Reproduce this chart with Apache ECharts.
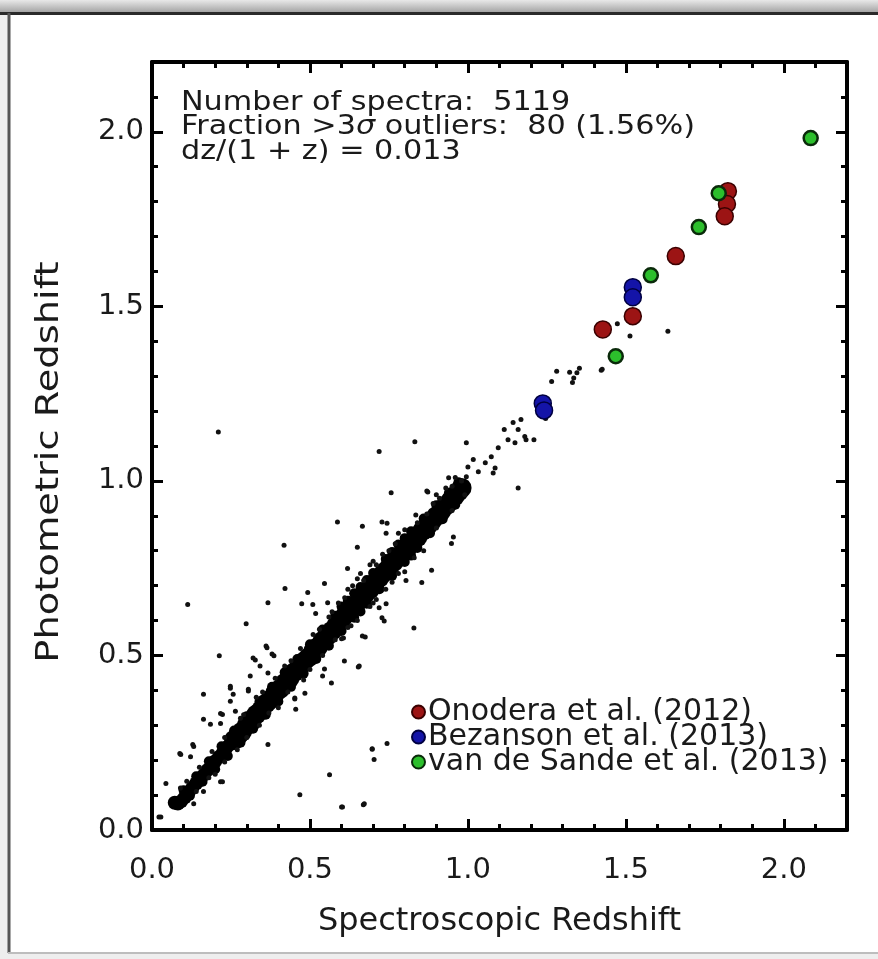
<!DOCTYPE html>
<html>
<head>
<meta charset="utf-8">
<script src="https://cdn.jsdelivr.net/npm/echarts@6/dist/echarts.min.js"></script>
<style>
  html, body { margin: 0; padding: 0; background: #eeeeee; }
  #chart { width: 878px; height: 959px; }
</style>
</head>
<body>
<div id="chart"></div>
<script>
// Photometric vs spectroscopic redshift comparison

const FONT = 'DejaVu Sans';

// Low-redshift end of the dense sequence (spec-z, phot-z)
const bandLow = [
  [0.072,0.078],[0.082,0.076],[0.092,0.082],[0.104,0.094],[0.116,0.108],[0.128,0.121],
  [0.140,0.134],[0.152,0.148],[0.164,0.158],[0.176,0.172],[0.188,0.184],[0.200,0.197],
  [0.212,0.209],[0.224,0.221],[0.236,0.236],[0.248,0.246]
];

// Dense core of the spectroscopic sample (spec-z, phot-z)
const bandCore = [
  [0.260,0.258],[0.272,0.270],[0.285,0.282],[0.300,0.300],[0.315,0.312],[0.330,0.331],
  [0.345,0.343],[0.360,0.362],[0.375,0.374],[0.390,0.392],[0.405,0.404],[0.420,0.421],
  [0.435,0.434],[0.450,0.452],[0.465,0.464],[0.480,0.482],[0.495,0.494],[0.510,0.512],
  [0.525,0.524],[0.540,0.542],[0.555,0.556],[0.570,0.571],[0.585,0.588],[0.600,0.604],
  [0.615,0.619],[0.630,0.634],[0.645,0.646],[0.660,0.661],[0.675,0.677],[0.690,0.690],
  [0.705,0.707],[0.720,0.723],[0.735,0.738],[0.750,0.751],[0.765,0.768],[0.780,0.783],
  [0.795,0.795],[0.810,0.811],[0.825,0.826],[0.840,0.839],[0.855,0.856],[0.870,0.869],
  [0.885,0.884],[0.900,0.899],[0.915,0.913],[0.930,0.929],[0.945,0.943],[0.958,0.956],
  [0.970,0.969],[0.980,0.980]
];

// Outer envelope of the dense core
const bandEdge = [
  [0.100,0.114],[0.140,0.154],[0.180,0.197],[0.220,0.240],[0.260,0.285],[0.300,0.326],
  [0.340,0.367],[0.380,0.410],[0.420,0.452],[0.460,0.490],[0.500,0.532],[0.540,0.574],
  [0.580,0.614],[0.600,0.640],[0.620,0.657],[0.640,0.678],[0.660,0.696],[0.680,0.716],
  [0.700,0.736],[0.740,0.776],[0.760,0.796],[0.780,0.818],[0.800,0.836],[0.820,0.856],
  [0.860,0.892],[0.900,0.930],[0.940,0.966],[0.970,0.996],
  [0.120,0.098],[0.160,0.138],[0.200,0.174],[0.240,0.212],[0.280,0.250],[0.320,0.290],
  [0.360,0.330],[0.400,0.368],[0.440,0.410],[0.480,0.448],[0.520,0.490],[0.560,0.528],
  [0.600,0.570],[0.640,0.608],[0.660,0.626],[0.680,0.648],[0.720,0.690],[0.760,0.728],
  [0.800,0.768],[0.820,0.786],[0.840,0.808],[0.880,0.850],[0.920,0.890],[0.960,0.932]
];

// Individual scattered galaxies and catastrophic outliers
const scatterPts = [
  [0.210,1.140],[0.832,1.112],[0.719,1.084],[0.995,1.109],[1.159,0.980],[0.757,0.966],
  [0.870,0.971],[0.587,0.882],[0.418,0.816],[0.666,0.870],[0.728,0.882],[0.744,0.879],
  [0.741,0.850],[0.954,0.839],[0.948,0.821],[0.835,0.902],[0.650,0.810],[0.619,0.749],
  [0.885,0.744],[0.854,0.709],[0.804,0.715],[0.546,0.706],[0.421,0.692],[0.493,0.680],
  [0.474,0.648],[0.556,0.651],[0.367,0.651],[0.113,0.646],[0.298,0.591],[0.509,0.646],
  [0.719,0.637],[0.741,0.648],[0.735,0.599],[0.829,0.579],[0.675,0.553],[0.606,0.550],
  [0.213,0.499],[0.361,0.527],[0.380,0.504],[0.327,0.487],[0.609,0.484],[0.653,0.467],
  [0.568,0.421],[0.540,0.441],[0.484,0.392],[0.452,0.378],[0.248,0.406],[0.163,0.389],
  [0.305,0.398],[0.223,0.331],[0.185,0.303],[0.367,0.245],[0.217,0.138],[0.163,0.110],
  [0.129,0.245],[0.088,0.219],[0.132,0.075],[0.044,0.133],[0.562,0.158],[0.468,0.101],
  [0.600,0.066],[0.669,0.072],[0.028,0.037],[0.697,0.231],[0.703,0.202],[0.744,0.248],
  [0.518,0.620],[1.281,1.314],[1.322,1.311],[1.353,1.323],[1.265,1.285],[1.331,1.282],
  [1.422,1.317],[1.246,1.179],[1.209,1.118],[1.127,1.118],[1.143,1.167],[1.168,1.176],
  [1.159,1.147],[1.149,1.109],[1.180,1.127],[1.184,1.118],[1.115,1.147],[1.096,1.095],
  [1.074,1.069],[1.055,1.052],[1.086,1.037],[1.080,1.023],[1.033,1.026],[1.017,1.061],
  [0.995,1.012],[0.939,1.009],[0.873,0.968],[1.473,1.450],[1.513,1.415],[1.633,1.429],
  [1.425,1.320],[1.335,1.295],[1.345,1.310],
  [0.248,0.412],[0.257,0.389],[0.248,0.369],[0.217,0.334],[0.163,0.317],[0.217,0.305],
  [0.264,0.340],[0.311,0.441],[0.320,0.493],[0.342,0.470],[0.367,0.450],[0.364,0.522],
  [0.386,0.499],[0.305,0.403],[0.091,0.216],[0.122,0.210],[0.132,0.239],[0.223,0.138],
  [0.452,0.375],[0.455,0.346],[0.546,0.461],[0.022,0.037],[0.656,0.470],[0.697,0.233],
  [0.672,0.075],[0.603,0.066],[0.728,0.608],[0.666,0.556],[0.600,0.548],
  [0.330,0.380],[0.280,0.320],[0.420,0.470],[0.470,0.520],[0.560,0.610],[0.620,0.690],
  [0.650,0.720],[0.690,0.760],[0.700,0.770],[0.780,0.850],[0.800,0.860],[0.900,0.960],
  [0.930,0.980],[0.960,1.010],[1.000,1.040],[0.620,0.580],[0.700,0.650],[0.760,0.710],
  [0.800,0.740],[0.860,0.800],[0.540,0.500],[0.480,0.430],[0.400,0.350],[0.340,0.300],
  [0.270,0.230],[0.200,0.160],[0.150,0.180],[0.110,0.140],[0.090,0.120],
  [0.350,0.395],[0.390,0.435],[0.440,0.485],[0.510,0.560],[0.530,0.575],[0.570,0.625],
  [0.590,0.650],[0.610,0.665],[0.635,0.700],[0.660,0.735],[0.670,0.715],[0.710,0.760],
  [0.730,0.790],[0.750,0.800],[0.770,0.820],[0.840,0.880],[0.870,0.905],[0.890,0.935],
  [0.910,0.950],[0.950,0.985],[0.980,1.000],[0.990,0.960],[0.950,0.915],[0.900,0.865],
  [0.830,0.780],[0.780,0.735],[0.740,0.690],[0.710,0.660],[0.690,0.640],[0.650,0.600],
  [0.630,0.585],[0.580,0.545],[0.500,0.460],[0.430,0.395],[0.370,0.335],[0.300,0.265],
  [0.230,0.195],[0.180,0.150],[0.140,0.110],[0.190,0.225],[0.230,0.265],[0.290,0.330]
];

// Comparison samples from the literature
const onodera = [
  [1.823,1.830],[1.820,1.793],[1.813,1.758],[1.658,1.644],[1.522,1.472],[1.427,1.434]
];
const bezanson = [
  [1.522,1.555],[1.522,1.526],[1.237,1.222],[1.241,1.202]
];
const vanDeSande = [
  [2.085,1.982],[1.794,1.824],[1.731,1.727],[1.579,1.589],[1.468,1.357]
];

const xTicks = [0.0, 0.5, 1.0, 1.5, 2.0];
const yTicks = [0.0, 0.5, 1.0, 1.5, 2.0];

const statsLines = [
  'Number of spectra:  5119',
  'Fraction >3{s|σ} outliers:  80 (1.56%)',
  'dz/(1 + z) = 0.013'
];
const yTitle = 'Photometric Redshift';

const chart = echarts.init(document.getElementById('chart'), null, { renderer: 'canvas' });

const GRID = { left: 152, right: 31, top: 62, bottom: 129 };
const TXT = '#1a1a1a';

function axisBase(ticks, showLabels) {
  return {
    type: 'value',
    min: 0,
    max: 2.2,
    interval: 0.5,
    axisLine: { show: true, onZero: false, lineStyle: { color: '#000', width: 4 } },
    axisTick: { show: true, inside: true, length: 11, lineStyle: { color: '#000', width: 3 } },
    minorTick: { show: true, splitNumber: 5, length: 6, lineStyle: { color: '#000', width: 3 } },
    splitLine: { show: false },
    axisLabel: showLabels ? {
      show: true, color: TXT, fontFamily: FONT, fontSize: 29,
      formatter: v => ticks.includes(+v.toFixed(1)) ? v.toFixed(1) : ''
    } : { show: false }
  };
}

const xBottom = Object.assign(axisBase(xTicks, true), {
  position: 'bottom',
  name: 'Spectroscopic Redshift',
  nameLocation: 'middle',
  nameGap: 76,
  nameTextStyle: { color: TXT, fontFamily: FONT, fontSize: 32 }
});
xBottom.axisLabel.margin = 26;
const xTop = Object.assign(axisBase(xTicks, false), { position: 'top' });

const yLeft = axisBase(yTicks, true);
yLeft.position = 'left';
yLeft.axisLabel.margin = 8;
const yRight = Object.assign(axisBase(yTicks, false), { position: 'right' });

const option = {
  animation: false,
  backgroundColor: 'transparent',
  graphic: [
    // window frame around the figure panel
    { type: 'rect', z: -10, silent: true, shape: { x: 0, y: 0, width: 878, height: 13 },
      style: { fill: new echarts.graphic.LinearGradient(0, 0, 0, 1, [
        { offset: 0, color: '#e8e8e8' }, { offset: 1, color: '#a0a0a0' }]) } },
    { type: 'rect', z: -10, silent: true, shape: { x: 10, y: 14, width: 868, height: 938 },
      style: { fill: '#ffffff' } },
    { type: 'line', z: -9, silent: true, shape: { x1: 0, y1: 13.5, x2: 878, y2: 13.5 },
      style: { stroke: '#2a2a2a', lineWidth: 3 } },
    { type: 'line', z: -9, silent: true, shape: { x1: 9, y1: 13, x2: 9, y2: 953 },
      style: { stroke: '#555', lineWidth: 3 } },
    { type: 'line', z: -9, silent: true, shape: { x1: 8, y1: 953, x2: 878, y2: 953 },
      style: { stroke: '#bdbdbd', lineWidth: 2 } },
    {
      type: 'group', x: 181, y: 89, scaleX: 1.12, z: 100,
      children: statsLines.map((t, i) => ({
        type: 'text',
        y: i * 24.5,
        style: {
          text: t,
          fill: TXT,
          font: '27px "' + FONT + '"',
          rich: { s: { fontStyle: 'italic', fontSize: 27, fontFamily: FONT, fill: TXT } }
        }
      }))
    },
    {
      // vertical axis title
      type: 'text', x: 50, y: 462, rotation: Math.PI / 2, scaleX: 1.2, z: 100,
      style: {
        text: yTitle, fill: TXT, font: '32px "' + FONT + '"',
        align: 'center', verticalAlign: 'middle'
      }
    }
  ],
  grid: GRID,
  xAxis: [xBottom, xTop],
  yAxis: [yLeft, yRight],
  legend: {
    orient: 'vertical',
    left: 411,
    top: 697,
    itemGap: -5,
    itemWidth: 13,
    itemHeight: 13,
    padding: 0,
    data: [
      { name: 'Onodera et al. (2012)', icon: 'circle' },
      { name: 'Bezanson et al. (2013)', icon: 'circle' },
      { name: 'van de Sande et al. (2013)', icon: 'circle' }
    ],
    textStyle: { color: TXT, fontFamily: FONT, fontSize: 30, padding: [0, 0, 0, -2] }
  },
  series: [
    {
      name: 'low', type: 'scatter', data: bandLow, symbolSize: 14,
      itemStyle: { color: '#000', opacity: 1 }, silent: true
    },
    {
      name: 'core', type: 'scatter', data: bandCore, symbolSize: 20,
      itemStyle: { color: '#000', opacity: 1 }, silent: true
    },
    {
      name: 'edge', type: 'scatter', data: bandEdge, symbolSize: 10,
      itemStyle: { color: '#000', opacity: 1 }, silent: true
    },
    {
      name: 'field', type: 'scatter', data: scatterPts, symbolSize: 5,
      itemStyle: { color: '#111', opacity: 1 }, silent: true
    },
    {
      name: 'Onodera et al. (2012)', type: 'scatter', data: onodera, symbolSize: 17,
      itemStyle: { color: '#9c1414', borderColor: '#3a0000', borderWidth: 1.5, opacity: 1 }, z: 5
    },
    {
      name: 'Bezanson et al. (2013)', type: 'scatter', data: bezanson, symbolSize: 17,
      itemStyle: { color: '#1414a8', borderColor: '#000040', borderWidth: 1.5, opacity: 1 }, z: 5
    },
    {
      name: 'van de Sande et al. (2013)', type: 'scatter', data: vanDeSande, symbolSize: 14,
      itemStyle: { color: '#2cbf2c', borderColor: '#0a2a0a', borderWidth: 2.5, opacity: 1 }, z: 6
    }
  ]
};

chart.setOption(option);
</script>
</body>
</html>
